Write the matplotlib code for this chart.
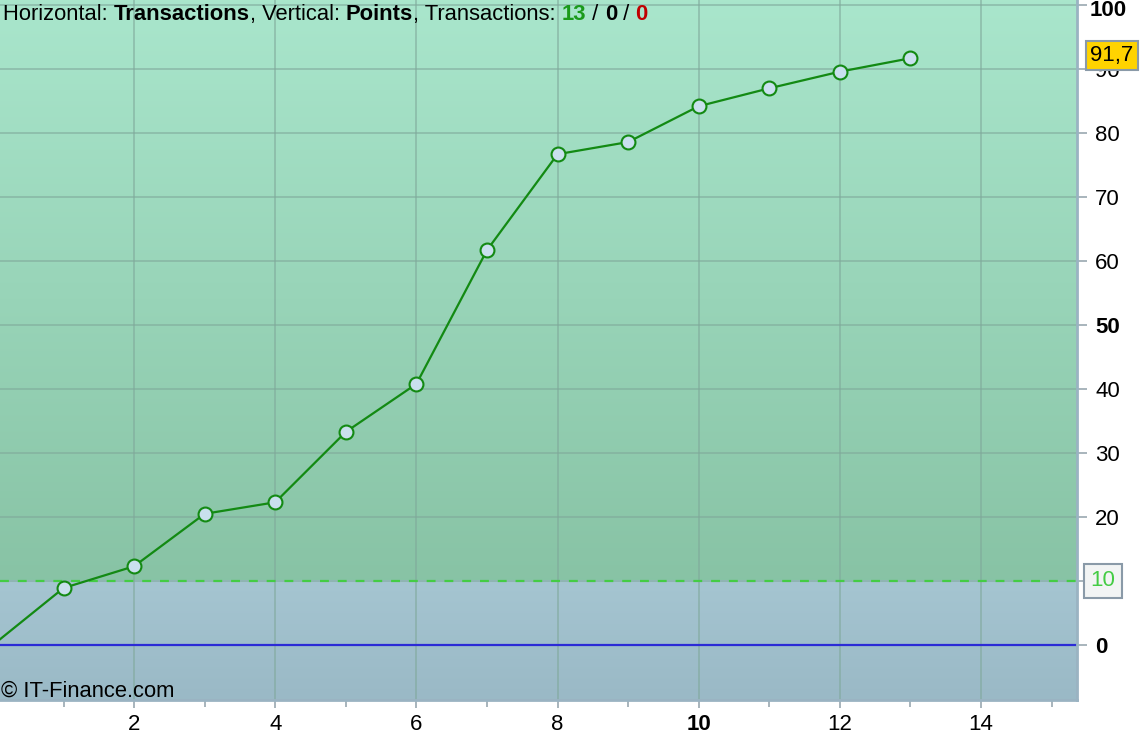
import numpy as np
import matplotlib.pyplot as plt

plt.rcParams['font.family'] = ['Liberation Sans', 'DejaVu Sans']

# данные
transactions = [0, 1, 2, 3, 4, 5, 6, 7, 8, 9, 10, 11, 12, 13]
points = [0, 8.9, 12.3, 20.5, 22.3, 33.3, 40.8, 61.7, 76.7, 78.6, 84.2, 87.0, 89.6, 91.7]
level_line = 10
last_value = 91.7
y_ticks = [0, 10, 20, 30, 40, 50, 60, 70, 80, 90, 100]
y_bold = [0, 50, 100]
x_ticks = [2, 4, 6, 8, 10, 12, 14]
x_minor = [1, 3, 5, 7, 9, 11, 13, 15]
x_bold = [10]

W, H = 1144, 734
fig = plt.figure(figsize=(W / 100, H / 100), dpi=100)
ax = fig.add_axes([0, 34 / H, 1077 / W, 1 - 34 / H])

xmin, xmax = 0.1, 15.36
ymin, ymax = -8.6, 100.8
ax.set_xlim(xmin, xmax)
ax.set_ylim(ymin, ymax)

# фон: зелёный градиент выше уровня, голубой ниже
g = np.linspace(0, 1, 256)[:, None]
top_c = np.array([0.663, 0.902, 0.800])
bot_c = np.array([0.533, 0.765, 0.647])
green = top_c * (1 - g) + bot_c * g
ax.imshow(green[:, None, :].repeat(2, axis=1), extent=(xmin, xmax, level_line, ymax),
          aspect='auto', zorder=0, interpolation='bicubic')
top_b = np.array([0.647, 0.773, 0.820])
bot_b = np.array([0.604, 0.725, 0.776])
blue = top_b * (1 - g) + bot_b * g
ax.imshow(blue[:, None, :].repeat(2, axis=1), extent=(xmin, xmax, ymin, level_line),
          aspect='auto', zorder=0, interpolation='bicubic')

# сетка
for xv in x_ticks:
    ax.axvline(xv, color='#7fa89a', lw=1.3, alpha=0.6, zorder=1)
for yv in y_ticks:
    ax.axhline(yv, color='#7fa89a', lw=1.3, alpha=0.6, zorder=1)

ax.axhline(level_line, color='#44cc44', lw=1.6, ls=(0, (4, 4)), zorder=2)
ax.axhline(0, color='#2b2bd6', lw=1.6, zorder=2)

ax.plot(transactions, points, color='#138a13', lw=1.6, zorder=3,
        marker='o', ms=10, mfc='#c9e0ee', mec='#138a13', mew=1.5,
        markevery=list(range(1, len(transactions))))

# оси
for s in ['left', 'top']:
    ax.spines[s].set_visible(False)
for s in ['right', 'bottom']:
    ax.spines[s].set_color('#9ab3c2')
    ax.spines[s].set_linewidth(2)

ax.yaxis.tick_right()
ax.set_yticks(y_ticks)
ax.set_yticklabels([str(v) if v not in (level_line, 100) else '' for v in y_ticks])
ax.tick_params(axis='y', length=7, width=1.2, color='#9aa8b0', labelsize=16, pad=6)
for lab, v in zip(ax.get_yticklabels(), y_ticks):
    if v in y_bold:
        lab.set_fontweight('bold')
# 100 сдвинута вниз, чтобы не обрезалась
ax.annotate('100', xy=(1.0, 100), xycoords=('axes fraction', 'data'),
            xytext=(9.4, -4), textcoords='offset points', va='center', ha='left',
            fontsize=16, fontweight='bold', annotation_clip=False)

ax.set_xticks(x_ticks)
ax.set_xticklabels([str(v) for v in x_ticks])
ax.set_xticks(x_minor, minor=True)
ax.tick_params(axis='x', which='major', length=6, width=1.2, color='#9aa8b0',
               labelsize=16, pad=4)
ax.tick_params(axis='x', which='minor', length=5, width=1.2, color='#9aa8b0')
for lab, v in zip(ax.get_xticklabels(), x_ticks):
    if v in x_bold:
        lab.set_fontweight('bold')

# подписи значений справа
ax.annotate('91,7', xy=(1.0, last_value), xycoords=('axes fraction', 'data'),
            xytext=(9.5, 2), textcoords='offset points', va='center', ha='left',
            fontsize=16, color='black', zorder=10, annotation_clip=False,
            bbox=dict(boxstyle='square,pad=0.2', fc='#ffd300', ec='#8a9aa8', lw=1.5))
ax.annotate('10', xy=(1.0, level_line), xycoords=('axes fraction', 'data'),
            xytext=(9.5, 0), textcoords='offset points', va='center', ha='left',
            fontsize=16, color='#44cc44', zorder=10, annotation_clip=False,
            bbox=dict(boxstyle='square,pad=0.3', fc='#f2f4f4', ec='#8a9aa8', lw=1.5))

# заголовок из нескольких частей
parts = [
    ('Horizontal: ', 'normal', 'black'),
    ('Transactions', 'bold', 'black'),
    (', Vertical: ', 'normal', 'black'),
    ('Points', 'bold', 'black'),
    (', Transactions: ', 'normal', 'black'),
    ('13', 'bold', '#1a9a1a'),
    (' / ', 'normal', 'black'),
    ('0', 'bold', 'black'),
    (' / ', 'normal', 'black'),
    ('0', 'bold', '#c00000'),
]
renderer = fig.canvas.get_renderer()
xpos = 3
for txt, wt, col in parts:
    t = fig.text(xpos / W, 1 - 20 / H, txt, fontsize=15.8, fontweight=wt, color=col,
                 ha='left', va='baseline')
    bb = t.get_window_extent(renderer=renderer)
    xpos += bb.width

fig.text(1 / W, 1 - 697 / H, '\u00a9 IT-Finance.com', fontsize=15.8, color='black',
         ha='left', va='baseline')

fig.savefig('out.png', dpi=100)
